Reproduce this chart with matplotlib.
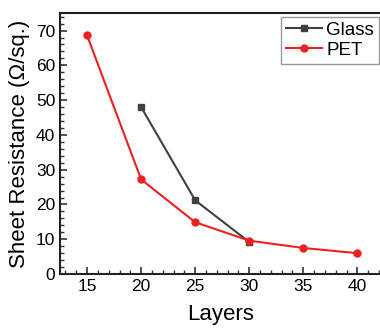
import matplotlib.pyplot as plt
from matplotlib.ticker import MultipleLocator

plt.rcParams['font.family'] = ['Liberation Sans', 'DejaVu Sans']

glass_layers = [20, 25, 30]
glass_res = [48.0, 21.2, 9.2]
pet_layers = [15, 20, 25, 30, 35, 40]
pet_res = [68.6, 27.2, 14.9, 9.6, 7.5, 6.0]

fig = plt.figure(figsize=(3.8, 3.29), dpi=100)
ax = fig.add_axes([0.158, 0.167, 0.845, 0.793])

ax.plot(glass_layers, glass_res, '-s', color='#404040', markersize=4.5, linewidth=1.5, label='Glass')
ax.plot(pet_layers, pet_res, '-o', color='#f02020', markersize=5, linewidth=1.5, label='PET')

ax.set_xlim(12.5, 42.2)
ax.set_ylim(0, 75)
ax.xaxis.set_major_locator(MultipleLocator(5))
ax.xaxis.set_minor_locator(MultipleLocator(1))
ax.yaxis.set_major_locator(MultipleLocator(10))
ax.yaxis.set_minor_locator(MultipleLocator(2))
ax.tick_params(which='both', direction='in', top=False, right=False, labelsize=12.5, color='#333333')
ax.tick_params(which='major', length=5, width=1.2)
ax.tick_params(which='minor', length=3, width=1)
for s in ax.spines.values():
    s.set_linewidth(1.5)
    s.set_color('#222222')
ax.spines['right'].set_visible(False)

ax.set_xlabel('Layers', fontsize=16, labelpad=7)
ax.set_ylabel('Sheet Resistance (Ω/sq.)', fontsize=16, labelpad=4)

leg = ax.legend(loc='upper right', bbox_to_anchor=(0.997, 0.948), bbox_transform=fig.transFigure,
                fontsize=13.5, fancybox=False, framealpha=1,
                edgecolor='#999999', handlelength=1.9, borderpad=0.25, labelspacing=0.15,
                handletextpad=0.25, borderaxespad=0)
leg.get_frame().set_linewidth(1)

fig.savefig('out.png', dpi=100)
